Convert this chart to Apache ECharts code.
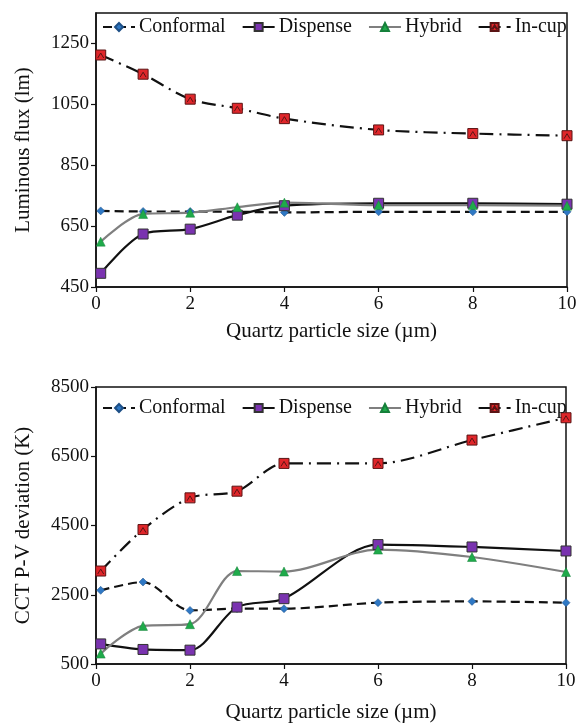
<!DOCTYPE html>
<html>
<head>
<meta charset="utf-8">
<script src="https://cdn.jsdelivr.net/npm/echarts@6/dist/echarts.min.js"></script>
<style>
  html, body { margin: 0; padding: 0; background: #fff; }
  #chart { width: 581px; height: 725px; }
</style>
</head>
<body>
<div id="chart"></div>
<script>
// Quartz particle sizes (µm)
const sizes = [0.1, 1, 2, 3, 4, 6, 8, 10];

// Luminous flux (lm)
const fluxConformal = [700, 698, 698, 697, 695, 697, 697, 697];
const fluxDispense  = [495, 624, 640, 686, 717, 725, 725, 722];
const fluxHybrid    = [599, 690, 694, 712, 727, 719, 719, 717];
const fluxIncup     = [1212, 1149, 1067, 1037, 1003, 966, 954, 947];

// CCT peak-to-valley deviation (K)
const cctConformal = [2627, 2867, 2048, 2100, 2097, 2271, 2308, 2271];
const cctDispense  = [1080, 920, 900, 2143, 2387, 3949, 3880, 3764];
const cctHybrid    = [800, 1600, 1650, 3185, 3170, 3804, 3590, 3156];
const cctIncup     = [3185, 4383, 5298, 5491, 6293, 6293, 6967, 7612];

// Axis tick labels
const fluxTicks = [450, 650, 850, 1050, 1250];
const cctTicks  = [500, 2500, 4500, 6500, 8500];
const sizeTicks = [0, 2, 4, 6, 8, 10];

const seriesNames = ['Conformal', 'Dispense', 'Hybrid', 'In-cup'];

const FONT = 'Liberation Serif';
const INK = '#111';

const pairs = (ys) => sizes.map((x, i) => [x, ys[i]]);
const plain = (v) => String(v);

const styles = {
  'Conformal': {
    symbol: 'diamond', symbolSize: 8,
    itemStyle: { color: '#2f78c4', borderColor: '#1d4f86', borderWidth: 0.5 },
    lineStyle: { color: '#111', width: 2.2, type: [9, 5] }
  },
  'Dispense': {
    symbol: 'rect', symbolSize: 10,
    itemStyle: { color: '#7a33b0', borderColor: '#333', borderWidth: 1 },
    lineStyle: { color: '#111', width: 2.2, type: 'solid' }
  },
  'Hybrid': {
    symbol: 'triangle', symbolSize: 9,
    itemStyle: { color: '#1faa4a', borderColor: '#15803a', borderWidth: 0.5 },
    lineStyle: { color: '#7f7f7f', width: 2.2, type: 'solid' }
  },
  'In-cup': {
    symbol: 'path://M0,0 L10,0 L10,10 L0,10 Z M2,8 L5,3 L8,8',
    symbolSize: 10,
    itemStyle: { color: '#e0262a', borderColor: '#5a1414', borderWidth: 1 },
    lineStyle: { color: '#111', width: 2.2, type: [14, 6, 2, 6] }
  }
};

function makeSeries(name, data, idx) {
  const s = styles[name];
  return {
    name: name,
    type: 'line',
    xAxisIndex: idx,
    yAxisIndex: idx,
    data: pairs(data),
    smooth: 0.3,
    symbol: s.symbol,
    symbolSize: s.symbolSize,
    showSymbol: true,
    itemStyle: s.itemStyle,
    lineStyle: s.lineStyle,
    emphasis: { disabled: true },
    animation: false
  };
}

function xAxis(idx) {
  return {
    type: 'value',
    gridIndex: idx,
    min: 0, max: 10, interval: 2,
    name: 'Quartz particle size (µm)',
    nameLocation: 'middle',
    nameGap: idx === 0 ? 34 : 38,
    nameTextStyle: { fontFamily: FONT, fontSize: 21, color: INK },
    axisLine: { show: true, onZero: false, lineStyle: { color: INK, width: 1.5 } },
    axisTick: { show: true, inside: false, length: 5, lineStyle: { color: INK, width: 1.2 },
                customValues: sizeTicks },
    axisLabel: { fontFamily: FONT, fontSize: 19, color: INK, margin: 8,
                 customValues: sizeTicks, formatter: plain },
    splitLine: { show: false }
  };
}

function yAxis(idx, name, min, max, ticks, gap) {
  return {
    type: 'value',
    gridIndex: idx,
    min: min, max: max,
    name: name,
    nameLocation: 'middle',
    nameGap: gap,
    nameTextStyle: { fontFamily: FONT, fontSize: 21, color: INK },
    axisLine: { show: true, onZero: false, lineStyle: { color: INK, width: 1.5 } },
    axisTick: { show: true, inside: false, length: 5, lineStyle: { color: INK, width: 1.2 },
                customValues: ticks },
    axisLabel: { fontFamily: FONT, fontSize: 19, color: INK, margin: 7,
                 customValues: ticks, formatter: plain },
    splitLine: { show: false }
  };
}

function legend(top) {
  return {
    data: seriesNames,
    left: 97,
    top: top,
    width: 480,
    padding: [5, 0, 5, 5],
    orient: 'horizontal',
    itemWidth: 32,
    itemHeight: 10,
    itemGap: 16,
    textStyle: { fontFamily: FONT, fontSize: 20, color: INK, padding: [0, 0, 0, -1] },
    selectedMode: false
  };
}

const chart = echarts.init(document.getElementById('chart'), null, { renderer: 'canvas' });

chart.setOption({
  backgroundColor: '#fff',
  animation: false,
  legend: [legend(12), legend(393)],
  grid: [
    { left: 96, right: 14, top: 13, bottom: 438, show: true, borderColor: INK, borderWidth: 1.5, backgroundColor: 'transparent' },
    { left: 96, right: 15, top: 387, bottom: 61, show: true, borderColor: INK, borderWidth: 1.5, backgroundColor: 'transparent' }
  ],
  xAxis: [xAxis(0), xAxis(1)],
  yAxis: [
    yAxis(0, 'Luminous flux (lm)', 450, 1350, fluxTicks, 62),
    yAxis(1, 'CCT P-V deviation (K)', 500, 8500, cctTicks, 62)
  ],
  series: [
    makeSeries('Conformal', fluxConformal, 0),
    makeSeries('Dispense', fluxDispense, 0),
    makeSeries('Hybrid', fluxHybrid, 0),
    makeSeries('In-cup', fluxIncup, 0),
    makeSeries('Conformal', cctConformal, 1),
    makeSeries('Dispense', cctDispense, 1),
    makeSeries('Hybrid', cctHybrid, 1),
    makeSeries('In-cup', cctIncup, 1)
  ]
});
</script>
</body>
</html>
